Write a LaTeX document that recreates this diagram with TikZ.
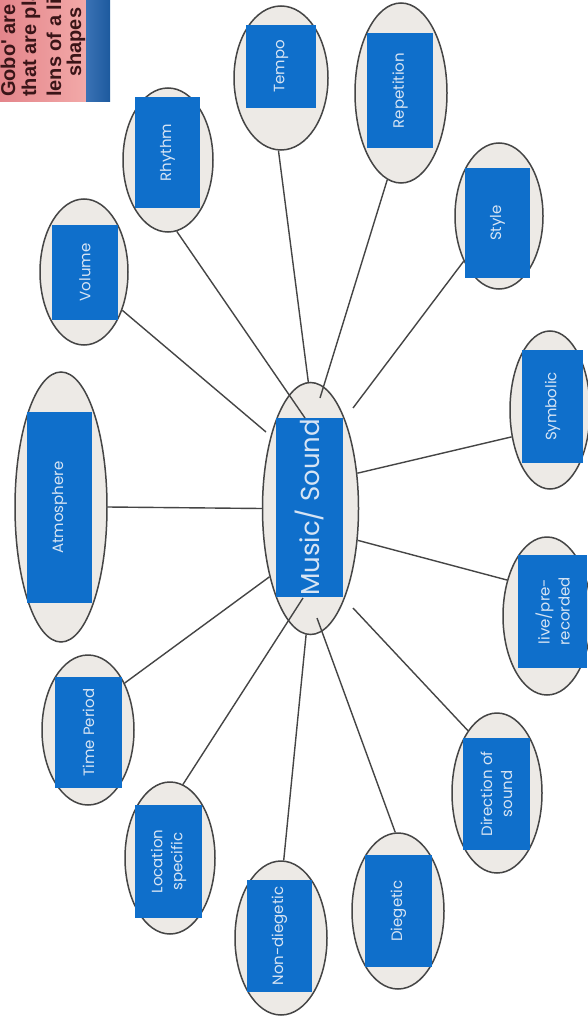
\documentclass[tikz,border=0pt]{standalone}
\usepackage{fontspec}
\newfontfamily\labfont{Poppins}
\newfontfamily\gobofont{Liberation Sans}
\usetikzlibrary{shapes.geometric}
\definecolor{linegray}{HTML}{454545}
\definecolor{bubfill}{HTML}{EDEAE6}
\definecolor{boxblue}{HTML}{0F6FCB}
\definecolor{labtext}{HTML}{D6E4F4}
\definecolor{pinkA}{HTML}{E4858B}
\definecolor{pinkB}{HTML}{F2A9A8}
\definecolor{stripA}{HTML}{3A72B5}
\definecolor{stripB}{HTML}{1D5A9E}
\definecolor{gobotext}{HTML}{3A1518}
\begin{document}
\begin{tikzpicture}[x=1pt,y=-1pt,
  bub/.style={ellipse, draw=linegray, line width=1.5pt, fill=bubfill, inner sep=0pt},
  lab/.style={rectangle, fill=boxblue, text=labtext, inner sep=0pt, align=center, rotate=90,
    font=\labfont\fontsize{15}{20}\selectfont},
  biglab/.style={lab, font=\labfont\fontsize{26}{30}\selectfont},
  link/.style={draw=linegray, line width=1.4pt},
  gobotxt/.style={rotate=90, anchor=base west, inner sep=0pt, text=gobotext,
    font=\gobofont\bfseries\fontsize{20}{22}\selectfont}
]
\useasboundingbox (0,0) rectangle (587,1024);
\fill[white] (0,0) rectangle (587,1024);

% note box in the top left corner
\shade[left color=pinkA, right color=pinkB] (0,0) rectangle (86,102);
\shade[left color=stripA, right color=stripB] (86,0) rectangle (110,102);
\begin{scope}
  \clip (0,0) rectangle (86,102);
  \node[gobotxt] (g1) at (15,97) {Gobo' are};
  \node[gobotxt] (g2) at (36,97) {that are pla};
  \node[gobotxt] (g3) at (61,97) {lens of a lig};
  \node[gobotxt] (g4) at (81,77) {shapes};
\end{scope}

% bubbles
\node[bub, minimum width=96, minimum height=252] (c) at (310.5,508.5) {};
\node[bub, minimum width=92, minimum height=270] (atm) at (61,507) {};
\node[bub, minimum width=88, minimum height=146] (vol) at (84,272) {};
\node[bub, minimum width=90, minimum height=144] (rhy) at (168,160) {};
\node[bub, minimum width=94, minimum height=144] (tem) at (281,78) {};
\node[bub, minimum width=92, minimum height=180] (rep) at (401,93) {};
\node[bub, minimum width=88, minimum height=146] (sty) at (499,216) {};
\node[bub, minimum width=80, minimum height=158] (sym) at (550,410) {};
\node[bub, minimum width=88, minimum height=158] (liv) at (547,616) {};
\node[bub, minimum width=90, minimum height=160] (dir) at (497,793) {};
\node[bub, minimum width=92, minimum height=156] (die) at (398,911) {};
\node[bub, minimum width=92, minimum height=154] (non) at (281,938) {};
\node[bub, minimum width=90, minimum height=152] (loc) at (170,858) {};
\node[bub, minimum width=92, minimum height=150] (tim) at (88,730) {};

% blue label boxes (rotated: width = vertical extent)
\node[biglab, minimum width=179, minimum height=67] (cB) at (309.5,507.5) {Music/ Sound};
\node[lab, minimum width=191, minimum height=65] (atmB) at (59.5,507.5) {Atmosphere};
\node[lab, minimum width=95, minimum height=66] (volB) at (85,272.5) {Volume};
\node[lab, minimum width=111, minimum height=65] (rhyB) at (167.5,152.5) {Rhythm};
\node[lab, minimum width=83, minimum height=70] (temB) at (281,66.5) {Tempo};
\node[lab, minimum width=115, minimum height=66] (repB) at (400,90.5) {Repetition};
\node[lab, minimum width=110, minimum height=65] (styB) at (497.5,223) {Style};
\node[lab, minimum width=113, minimum height=61] (symB) at (552.5,406.5) {Symbolic};
\node[lab, minimum width=113, minimum height=69] (livB) at (552.5,611.5) {live/pre-\\recorded};
\node[lab, minimum width=112, minimum height=67] (dirB) at (496.5,794) {Direction of\\sound};
\node[lab, minimum width=112, minimum height=67] (dieB) at (398.5,911) {Diegetic};
\node[lab, minimum width=112, minimum height=65] (nonB) at (279.5,936) {Non-diegetic};
\node[lab, minimum width=113, minimum height=67] (locB) at (168.5,861.5) {Location\\specific};
\node[lab, minimum width=111, minimum height=67] (timB) at (88.5,732.5) {Time Period};

% free inner ends of connectors
\coordinate (cVol) at (266,432);
\coordinate (cRhy) at (305,418);
\coordinate (cRep) at (320,398);
\coordinate (cSty) at (353,408);
\coordinate (cLoc) at (303,598);
\coordinate (cDie) at (317,618);
\coordinate (cDir) at (353,608);

% connectors
\draw[link] (atm.east) -- (c.west);
\draw[link] (vol.-45) -- (cVol);
\draw[link] (rhy.-83) -- (cRhy);
\draw[link] (tem.-92) -- (c.91);
\draw[link] (rep.-99) -- (cRep);
\draw[link] (sty.-128) -- (cSty);
\draw[link] (sym.-145) -- (c.37);
\draw[link] (liv.138) -- (c.-34);
\draw[link] (dir.115) -- (cDir);
\draw[link] (die.92) -- (cDie);
\draw[link] (non.88) -- (c.-92);
\draw[link] (loc.80) -- (cLoc);
\draw[link] (tim.52) -- (c.-121);
\end{tikzpicture}
\end{document}
